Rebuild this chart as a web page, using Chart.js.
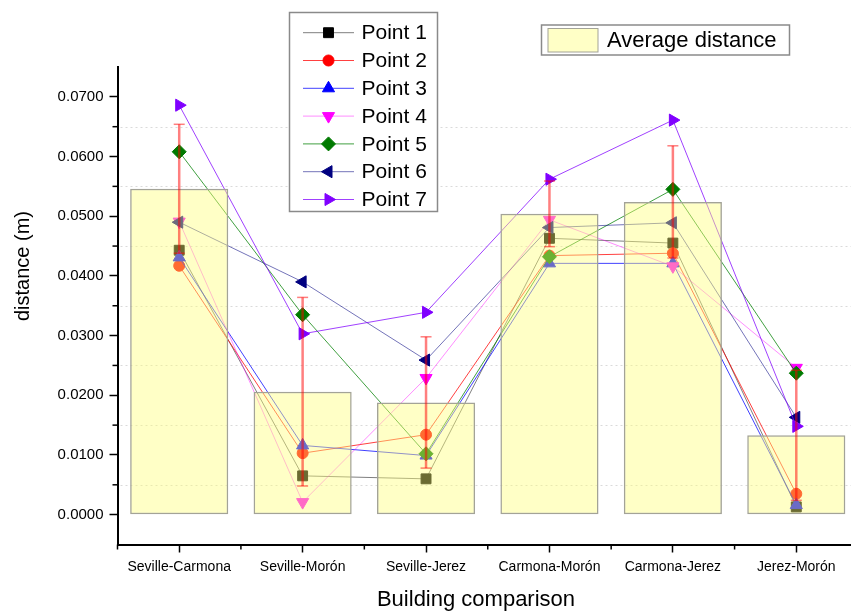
<!DOCTYPE html>
<html>
<head>
<meta charset="utf-8">
<script src="https://cdn.jsdelivr.net/npm/chart.js@4.4.1/dist/chart.umd.min.js"></script>
<style>
  html, body { margin: 0; padding: 0; background: #fff; overflow: hidden; }
  #wrap { width: 858px; height: 612px; }
</style>
</head>
<body>
<div id="wrap"><canvas id="chart" width="858" height="612"></canvas></div>
<script>
// Distances between building pairs: per-point values and the averaged bar with its spread
const categories = ['Seville-Carmona', 'Seville-Morón', 'Seville-Jerez', 'Carmona-Morón', 'Carmona-Jerez', 'Jerez-Morón'];

const avgDistance = [0.0546, 0.0206, 0.0188, 0.0504, 0.0524, 0.0133];
const avgError    = [0.0108, 0.0158, 0.0110, 0.0055, 0.0094, 0.0109];

const point1 = [0.0443, 0.0065, 0.0060, 0.0463, 0.0455, 0.0013];
const point2 = [0.0417, 0.0103, 0.0134, 0.0434, 0.0438, 0.0035];
const point3 = [0.0431, 0.0116, 0.0099, 0.0421, 0.0421, 0.0016];
const point4 = [0.0491, 0.0021, 0.0229, 0.0494, 0.0416, 0.0246];
const point5 = [0.0608, 0.0335, 0.0102, 0.0432, 0.0545, 0.0237];
const point6 = [0.0490, 0.0390, 0.0259, 0.0481, 0.0489, 0.0163];
const point7 = [0.0686, 0.0303, 0.0339, 0.0562, 0.0661, 0.0148];

const yMajorTicks = [0, 0.01, 0.02, 0.03, 0.04, 0.05, 0.06, 0.07];
const yMinorTicks = [0.005, 0.015, 0.025, 0.035, 0.045, 0.055, 0.065];

const FONT = "'Liberation Sans', Arial, sans-serif";
const BAR_FILL = 'rgba(255, 255, 120, 0.42)';
const BAR_EDGE = '#a3a397';

// marker / line styling for each point series
const pointSeries = [
  { label: 'Point 1', data: point1, color: '#000000', line: 'rgba(0, 0, 0, 0.5)',      style: 'rect',     rotation: 0,   radius: 7 },
  { label: 'Point 2', data: point2, color: '#ff0000', line: 'rgba(255, 0, 0, 0.75)',   style: 'circle',   rotation: 0,   radius: 5.5 },
  { label: 'Point 3', data: point3, color: '#0000ff', line: 'rgba(0, 0, 255, 0.75)',   style: 'triangle', rotation: 0,   radius: 7 },
  { label: 'Point 4', data: point4, color: '#ff00ff', line: 'rgba(255, 0, 255, 0.45)', style: 'triangle', rotation: 180, radius: 7 },
  { label: 'Point 5', data: point5, color: '#007a00', line: 'rgba(0, 128, 0, 0.75)',   style: 'rectRot',  rotation: 0,   radius: 7 },
  { label: 'Point 6', data: point6, color: '#000080', line: 'rgba(0, 0, 128, 0.55)',   style: 'triangle', rotation: -90, radius: 7 },
  { label: 'Point 7', data: point7, color: '#8000ff', line: 'rgba(128, 0, 255, 0.75)', style: 'triangle', rotation: 90,  radius: 7 }
];

Chart.defaults.font.family = FONT;
Chart.defaults.color = '#000';

function strokeLine(ctx, x1, y1, x2, y2) {
  ctx.beginPath();
  ctx.moveTo(x1, y1);
  ctx.lineTo(x2, y2);
  ctx.stroke();
}

function drawMarker(ctx, s, x, y) {
  ctx.fillStyle = s.color;
  ctx.strokeStyle = s.color;
  ctx.lineWidth = 1;
  Chart.helpers.drawPoint(ctx, { pointStyle: s.style, rotation: s.rotation, radius: s.radius, borderWidth: 1 }, x, y);
}

const decorPlugin = {
  id: 'decor',
  beforeDatasetsDraw(chart) {
    const { ctx, chartArea, scales: { x, y } } = chart;
    ctx.save();
    // dashed guide lines at the half steps
    ctx.strokeStyle = '#dadada';
    ctx.lineWidth = 1;
    ctx.setLineDash([2, 3]);
    yMinorTicks.forEach(v => {
      const py = Math.round(y.getPixelForValue(v)) + 0.5;
      strokeLine(ctx, chartArea.left + 3, py, chartArea.right, py);
    });
    ctx.setLineDash([]);
    // minor ticks on both axes
    ctx.strokeStyle = '#000';
    ctx.lineWidth = 1.5;
    yMinorTicks.forEach(v => {
      const py = y.getPixelForValue(v);
      strokeLine(ctx, chartArea.left - 5, py, chartArea.left, py);
    });
    for (let i = 0; i <= categories.length; i++) {
      const px = x.getPixelForValue(i - 0.5);
      strokeLine(ctx, px, chartArea.bottom, px, chartArea.bottom + 5);
    }
    ctx.restore();
  },
  afterDatasetsDraw(chart) {
    const { ctx, scales: { x, y } } = chart;
    ctx.save();
    ctx.strokeStyle = 'rgba(255, 0, 0, 0.5)';
    avgDistance.forEach((v, i) => {
      const px = x.getPixelForValue(i);
      const top = y.getPixelForValue(v + avgError[i]);
      const bot = y.getPixelForValue(v - avgError[i]);
      ctx.lineWidth = 2.5;
      strokeLine(ctx, px, top, px, bot);
      ctx.lineWidth = 1.5;
      strokeLine(ctx, px - 5.5, top, px + 5.5, top);
      strokeLine(ctx, px - 5.5, bot, px + 5.5, bot);
    });
    ctx.restore();
  },
  afterDraw(chart) {
    const { ctx } = chart;
    ctx.save();
    ctx.fillStyle = '#000';

    // axis titles
    ctx.font = `22px ${FONT}`;
    ctx.textAlign = 'center';
    ctx.textBaseline = 'middle';
    ctx.fillText('Building comparison', 476, 600);
    ctx.save();
    ctx.translate(23, 266);
    ctx.rotate(-Math.PI / 2);
    ctx.font = `20px ${FONT}`;
    ctx.fillText('distance (m)', 0, 0);
    ctx.restore();

    // legend for the point series
    ctx.fillStyle = '#fff';
    ctx.fillRect(289.5, 12.5, 148, 199);
    ctx.strokeStyle = '#8a8a8a';
    ctx.lineWidth = 1.5;
    ctx.strokeRect(289.5, 12.5, 148, 199);
    ctx.font = `21px ${FONT}`;
    ctx.textAlign = 'left';
    pointSeries.forEach((s, i) => {
      const ry = 32.7 + i * 27.8;
      ctx.strokeStyle = s.line;
      ctx.lineWidth = 1;
      strokeLine(ctx, 303, ry, 354, ry);
      drawMarker(ctx, s, 328.5, ry);
      ctx.fillStyle = '#000';
      ctx.fillText(s.label, 361.5, ry + 1);
    });

    // legend for the averaged bars
    ctx.fillStyle = '#fff';
    ctx.fillRect(541.5, 25, 248, 30);
    ctx.strokeStyle = '#8a8a8a';
    ctx.lineWidth = 1.5;
    ctx.strokeRect(541.5, 25, 248, 30);
    ctx.fillStyle = BAR_FILL;
    ctx.fillRect(548, 28.5, 50, 23.5);
    ctx.strokeStyle = BAR_EDGE;
    ctx.lineWidth = 1;
    ctx.strokeRect(548, 28.5, 50, 23.5);
    ctx.fillStyle = '#000';
    ctx.font = `22px ${FONT}`;
    ctx.fillText('Average distance', 607, 41);
    ctx.restore();
  }
};

new Chart(document.getElementById('chart'), {
  type: 'bar',
  data: {
    labels: categories,
    datasets: [
      {
        type: 'bar',
        label: 'Average distance',
        data: avgDistance,
        backgroundColor: BAR_FILL,
        borderColor: BAR_EDGE,
        borderWidth: 1.5,
        borderSkipped: false,
        categoryPercentage: 0.795,
        barPercentage: 1,
        order: 0
      },
      ...pointSeries.map((s, i) => ({
        type: 'line',
        label: s.label,
        data: s.data,
        borderColor: s.line,
        borderWidth: 1,
        pointStyle: s.style,
        pointRotation: s.rotation,
        pointRadius: s.radius,
        pointBackgroundColor: s.color,
        pointBorderColor: s.color,
        pointBorderWidth: 1,
        tension: 0,
        fill: false,
        clip: false,
        order: pointSeries.length - i
      }))
    ]
  },
  options: {
    responsive: false,
    animation: false,
    devicePixelRatio: 1,
    layout: { autoPadding: false, padding: { top: 67, left: 0, right: 0, bottom: 0 } },
    plugins: {
      legend: { display: false },
      tooltip: { enabled: false }
    },
    scales: {
      x: {
        type: 'category',
        offset: true,
        grid: { offset: false, drawOnChartArea: false, drawTicks: true, tickLength: 8, tickColor: '#000', tickWidth: 1.5 },
        border: { color: '#000', width: 2 },
        ticks: { font: { size: 14 }, padding: 6, maxRotation: 0, autoSkip: false },
        afterFit: s => { s.height = 67.5; }
      },
      y: {
        type: 'linear',
        min: -0.005,
        max: 0.075,
        afterBuildTicks: s => { s.ticks = yMajorTicks.map(v => ({ value: v })); },
        grid: { drawOnChartArea: false, drawTicks: true, tickLength: 8, tickColor: '#000', tickWidth: 1.5 },
        border: { color: '#000', width: 2 },
        ticks: { font: { size: 15 }, padding: 6, callback: v => Number(v).toFixed(4) },
        afterFit: s => { s.width = 117.5; }
      }
    }
  },
  plugins: [decorPlugin]
});
</script>
</body>
</html>
